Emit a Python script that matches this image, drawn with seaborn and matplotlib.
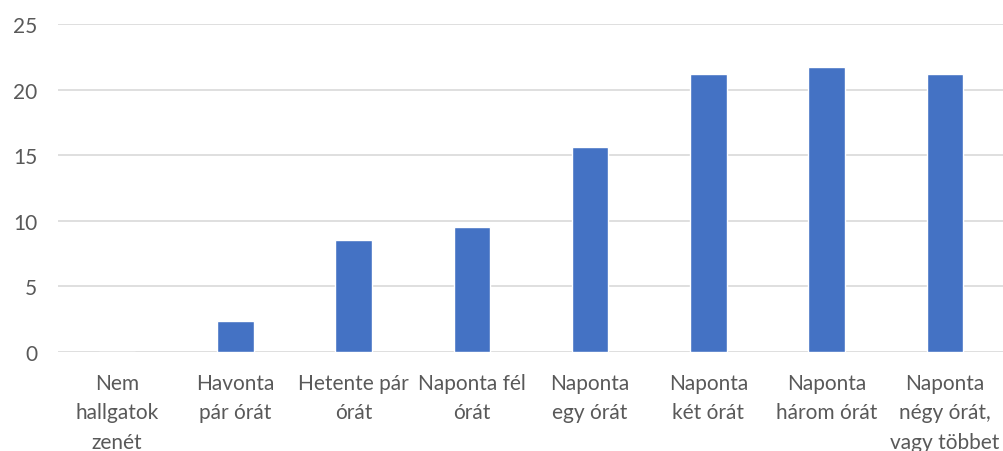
import matplotlib
matplotlib.use("Agg")
import matplotlib.pyplot as plt
import seaborn as sns
import pandas as pd

# Kategóriák és értékek (%)
categories = [
    "Nem\nhallgatok\nzenét",
    "Havonta\npár órát",
    "Hetente pár\nórát",
    "Naponta fél\nórát",
    "Naponta\negy órát",
    "Naponta\nkét órát",
    "Naponta\nhárom órát",
    "Naponta\nnégy órát,\nvagy többet",
]
values = [0, 2.4, 8.5, 9.5, 15.6, 21.2, 21.7, 21.2]
yticks = [0, 5, 10, 15, 20, 25]

df = pd.DataFrame({"kategoria": categories, "ertek": values})

sns.set_theme(style="white")
plt.rcParams["font.family"] = ["Lato", "DejaVu Sans"]

fig = plt.figure(figsize=(10.04, 4.52), dpi=100)
ax = fig.add_axes([58 / 1004, 1 - 353 / 452, 1 - 58 / 1004, (353 - 25) / 452])

sns.barplot(data=df, x="kategoria", y="ertek", color="#4472C4", width=0.31,
            saturation=1, ax=ax, zorder=3)

ax.set_ylim(0, 25)
ax.set_xlim(-0.5, len(categories) - 0.5)
ax.set_yticks(yticks)
ax.yaxis.grid(True, color="#D9D9D9", linewidth=1.2, zorder=0)
ax.set_axisbelow(True)
for s in ax.spines.values():
    s.set_visible(False)
ax.set_xlabel("")
ax.set_ylabel("")
ax.tick_params(axis="both", length=0, labelsize=15, colors="#595959")
ax.tick_params(axis="y", pad=15)
ax.tick_params(axis="x", pad=15)
for lbl in ax.get_xticklabels():
    lbl.set_linespacing(1.6)
    lbl.set_verticalalignment("top")

fig.savefig("out.png", dpi=100)
